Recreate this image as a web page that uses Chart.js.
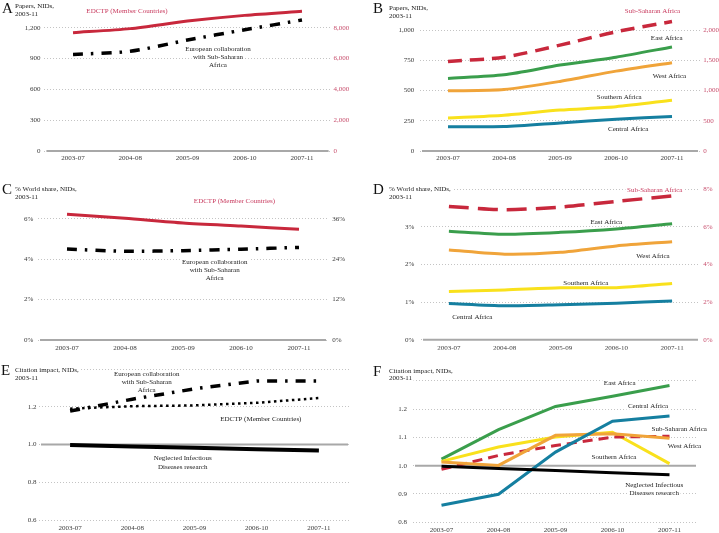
<!DOCTYPE html>
<html>
<head>
<meta charset="utf-8">
<script src="https://cdn.jsdelivr.net/npm/chart.js@4.4.0/dist/chart.umd.min.js"></script>
<style>
html, body { margin: 0; padding: 0; background: #fff; }
#wrap { position: relative; width: 719px; height: 533px; overflow: hidden; }
#wrap canvas { position: absolute; left: 0; top: 0; }
</style>
</head>
<body>
<div id="wrap"></div>
<script>
// periods on the x axis (all six panels)
const periods = ['2003-07', '2004-08', '2005-09', '2006-10', '2007-11'];

// A - papers (EDCTP on right axis)
const papersEdctp = [7680, 7940, 8430, 8800, 9060];
const papersEuroSsa = [940, 970, 1080, 1180, 1275];
// B - papers by region (Sub-Saharan on right axis)
const papersSsa = [1480, 1550, 1750, 1970, 2140];
const papersEast = [600, 630, 710, 775, 860];
const papersWest = [497, 508, 575, 660, 730];
const papersSouth = [272, 295, 338, 366, 420];
const papersCentral = [200, 202, 232, 262, 285];
// C - world share % (EDCTP on right axis)
const shareEdctp = [37.3, 36.1, 34.7, 33.8, 32.9];
const shareEuroSsa = [4.50, 4.39, 4.42, 4.49, 4.58];
// D - world share % by region (Sub-Saharan on right axis)
const shareSsa = [7.07, 6.90, 7.04, 7.34, 7.63];
const shareEast = [2.88, 2.80, 2.85, 2.94, 3.08];
const shareWest = [2.38, 2.27, 2.32, 2.49, 2.60];
const shareSouth = [1.28, 1.32, 1.38, 1.38, 1.49];
const shareCentral = [0.96, 0.90, 0.93, 0.97, 1.03];
// E - citation impact
const citeEuroSsa = [1.177, 1.24, 1.295, 1.337, 1.337];
const citeEdctp = [1.19, 1.203, 1.207, 1.221, 1.246];
const citeNid = [0.998, 0.99, 0.983, 0.975, 0.968];
// F - citation impact by region
const citeEast = [1.023, 1.127, 1.209, 1.245, 1.283];
const citeCentral = [0.86, 0.899, 1.048, 1.157, 1.175];
const citeSsa = [0.987, 1.036, 1.071, 1.101, 1.104];
const citeWest = [1.013, 1.001, 1.107, 1.113, 1.097];
const citeSouth = [1.015, 1.066, 1.101, 1.118, 1.007];

// axis ranges [min, max, step]
const ticksA = [0, 1200, 300], ticksA2 = [0, 8000, 2000];
const ticksB = [0, 1000, 250], ticksB2 = [0, 2000, 500];
const ticksC = [0, 6, 2], ticksC2 = [0, 36, 12];
const ticksD = [0, 4, 1], ticksD2 = [0, 8, 2];
const ticksE = [0.6, 1.4, 0.2];
const ticksF = [0.8, 1.3, 0.1];

const SERIF = '"Liberation Serif", "DejaVu Serif", serif';
const RED = '#c8283c', GREEN = '#3a9e4c', ORANGE = '#f0a43a', YELLOW = '#f9e11c', BLUE = '#157fa0';
const LABELRED = '#c83a5e', TICKRED = '#c8506e', TICK = '#3a3a3a';
const DASHDOT = [10, 8, 2.5, 8];

const comma = v => Math.round(v).toLocaleString('en-US');
const pct = v => Math.round(v) + '%';

function line(data, color, width, dash, axis, tension) {
    return {
        data: data, borderColor: color, borderWidth: width, borderDash: dash || [],
        yAxisID: axis || 'y', pointRadius: 0, tension: tension || 0, clip: false,
        fill: false, borderCapStyle: 'butt'
    };
}

//draws the reference line, titles and labels on top of the grid
const textPlugin = {
    id: 'texts',
    beforeDatasetsDraw(chart, args, o) {
        const ctx = chart.ctx;
        const area = chart.chartArea;
        ctx.save();
        if (o.ref !== undefined) {
            const y = chart.scales.y.getPixelForValue(o.ref);
            ctx.strokeStyle = '#a8a8a8';
            ctx.lineWidth = 2;
            ctx.beginPath();
            ctx.moveTo(area.left + 2, y);
            ctx.lineTo(area.right - 2, y);
            ctx.stroke();
        }
        ctx.textBaseline = 'middle';
        for (const t of o.items) {
            const size = t[5] || 7;
            ctx.font = size + 'px ' + SERIF;
            const w = ctx.measureText(t[0]).width;
            const left = t[3] == 'center' ? t[1] - w / 2 : t[1];
            ctx.fillStyle = '#fff';
            ctx.fillRect(left - 1.5, t[2] - size / 2 - 0.5, w + 3, size + 1);
            ctx.fillStyle = t[4] || '#222';
            ctx.textAlign = 'left';
            ctx.fillText(t[0], left, t[2]);
        }
        ctx.restore();
    },
    afterDraw(chart, args, o) {
        const ctx = chart.ctx;
        ctx.save();
        ctx.font = '15px ' + SERIF;
        ctx.fillStyle = '#111';
        ctx.textBaseline = 'alphabetic';
        ctx.fillText(o.letter[0], o.letter[1], o.letter[2]);
        ctx.restore();
    }
};

function panel(o) {
    const c = document.createElement('canvas');
    c.width = 719;
    c.height = 533;
    document.getElementById('wrap').appendChild(c);
    const font = { family: SERIF, size: 7 };
    const rW = o.yr ? Math.min(30, 719 - o.area[1]) : 0;
    const scales = {
        x: {
            type: 'category', offset: true,
            grid: { display: false, drawTicks: false }, border: { display: false },
            ticks: { color: TICK, font: font, padding: o.xPad, maxRotation: 0, autoSkip: false },
            afterFit: s => { s.height = 10; }
        },
        y: {
            position: 'left', min: o.yl[0], max: o.yl[1],
            ticks: { stepSize: o.yl[2], color: TICK, font: font, padding: o.lPad, callback: o.fl },
            grid: { color: '#c4c4c4', lineWidth: 1, drawTicks: false },
            border: { display: false, dash: [1, 2] },
            afterFit: s => { s.width = 25; }
        }
    };
    if (o.yr) {
        scales.y2 = {
            position: 'right', min: o.yr[0], max: o.yr[1],
            ticks: { stepSize: o.yr[2], color: o.rColor, font: font, padding: o.rPad, callback: o.fr },
            grid: { drawOnChartArea: false, drawTicks: false }, border: { display: false },
            afterFit: s => { s.width = rW; }
        };
    }
    new Chart(c, {
        type: 'line',
        data: { labels: periods, datasets: o.datasets },
        options: {
            responsive: false, animation: false, devicePixelRatio: 1,
            layout: { padding: {
                left: o.area[0] - 25,
                right: 719 - o.area[1] - rW,
                top: o.area[2],
                bottom: 533 - o.area[3] - 10
            } },
            scales: scales,
            plugins: {
                legend: { display: false }, tooltip: { enabled: false },
                texts: { ref: o.ref, items: o.items, letter: o.letter }
            }
        },
        plugins: [textPlugin]
    });
}

// A
panel({
    area: [44.4, 330.6, 27.7, 151], yl: ticksA, yr: ticksA2, fl: comma, fr: comma,
    lPad: 4, rPad: 3, xPad: 3.1, rColor: TICKRED, ref: 0,
    letter: ['A', 2, 13],
    items: [
        ['Papers, NIDs,', 15, 6, 'left'], ['2003-11', 15, 14.5, 'left'],
        ['EDCTP (Member Countries)', 127, 10.7, 'center', LABELRED],
        ['European collaboration', 218, 49.3, 'center'],
        ['with Sub-Saharan', 218, 57.3, 'center'],
        ['Africa', 218, 65.5, 'center']
    ],
    datasets: [
        line(papersEdctp, RED, 3, null, 'y2', 0.25),
        line(papersEuroSsa, '#000', 3.5, DASHDOT, 'y', 0.25)
    ]
});

// B
panel({
    area: [420, 700, 30, 151], yl: ticksB, yr: ticksB2, fl: comma, fr: comma,
    lPad: 5.7, rPad: 3.3, xPad: 3.1, rColor: TICKRED, ref: 0,
    letter: ['B', 373, 12.5],
    items: [
        ['Papers, NIDs,', 389, 8, 'left'], ['2003-11', 389, 15.7, 'left'],
        ['Sub-Saharan Africa', 652.5, 10.7, 'center', LABELRED],
        ['East Africa', 666.7, 38.3, 'center'],
        ['West Africa', 669.5, 76, 'center'],
        ['Southern Africa', 619.2, 97, 'center'],
        ['Central Africa', 628.2, 128.7, 'center']
    ],
    datasets: [
        line(papersSsa, RED, 3.5, [14, 8], 'y2', 0.25),
        line(papersEast, GREEN, 3, null, 'y', 0.25),
        line(papersWest, ORANGE, 3, null, 'y', 0.25),
        line(papersSouth, YELLOW, 3, null, 'y', 0.25),
        line(papersCentral, BLUE, 3, null, 'y', 0.25)
    ]
});

// C
panel({
    area: [38, 328, 218.7, 340], yl: ticksC, yr: ticksC2, fl: pct, fr: pct,
    lPad: 4.7, rPad: 4.3, xPad: 4.1, rColor: TICK, ref: 0,
    letter: ['C', 2, 194],
    items: [
        ['% World share, NIDs,', 15, 189, 'left'], ['2003-11', 15, 196.7, 'left'],
        ['EDCTP (Member Countries)', 234.5, 200.7, 'center', LABELRED],
        ['European collaboration', 214.7, 261.7, 'center'],
        ['with Sub-Saharan', 214.7, 270, 'center'],
        ['Africa', 214.7, 277.7, 'center']
    ],
    datasets: [
        line(shareEdctp, RED, 3, null, 'y2', 0.25),
        line(shareEuroSsa, '#000', 3.5, DASHDOT, 'y', 0.25)
    ]
});

// D
panel({
    area: [421, 700, 189, 339.7], yl: ticksD, yr: ticksD2,
    fl: v => (Math.round(v) == 4 ? '' : pct(v)), fr: pct,
    lPad: 6.7, rPad: 3.3, xPad: 4.4, rColor: TICKRED, ref: 0,
    letter: ['D', 373, 194],
    items: [
        ['% World share, NIDs,', 389, 189, 'left'], ['2003-11', 389, 196.7, 'left'],
        ['Sub-Saharan Africa', 654.7, 189.7, 'center', LABELRED],
        ['East Africa', 606.3, 221.7, 'center'],
        ['West Africa', 653, 256.3, 'center'],
        ['Southern Africa', 585.8, 282.7, 'center'],
        ['Central Africa', 472.3, 316.7, 'center']
    ],
    datasets: [
        line(shareSsa, RED, 3.5, [20, 9], 'y2', 0.25),
        line(shareEast, GREEN, 3, null, 'y', 0.25),
        line(shareWest, ORANGE, 3, null, 'y', 0.25),
        line(shareSouth, YELLOW, 3, null, 'y', 0.25),
        line(shareCentral, BLUE, 3, null, 'y', 0.25)
    ]
});

// E
panel({
    area: [39, 350, 369, 520], yl: ticksE,
    fl: v => (Math.abs(v - 1.4) < 0.01 ? '' : v.toFixed(1)),
    lPad: 2.5, xPad: 3.5, ref: 1,
    letter: ['E', 1, 375],
    items: [
        ['Citation impact, NIDs,', 15, 370, 'left'], ['2003-11', 15, 378, 'left'],
        ['European collaboration', 146.7, 374, 'center'],
        ['with Sub-Saharan', 146.7, 382.3, 'center'],
        ['Africa', 146.7, 390.3, 'center'],
        ['EDCTP (Member Countries)', 260.8, 419, 'center'],
        ['Neglected Infectious', 182.7, 458.3, 'center'],
        ['Diseases research', 182.7, 466.7, 'center']
    ],
    datasets: [
        line(citeEuroSsa, '#000', 3.5, DASHDOT, 'y', 0),
        line(citeEdctp, '#000', 2.5, [2.5, 3.5], 'y', 0),
        line(citeNid, '#000', 4, null, 'y', 0)
    ]
});

// F
panel({
    area: [413, 698, 380.7, 522.3], yl: ticksF,
    fl: v => (Math.abs(v - 1.3) < 0.01 ? '' : v.toFixed(1)),
    lPad: 6, xPad: 4, ref: 1,
    letter: ['F', 373, 376],
    items: [
        ['Citation impact, NIDs,', 389, 371, 'left'], ['2003-11', 389, 378.3, 'left'],
        ['East Africa', 619.7, 383.3, 'center'],
        ['Central Africa', 648, 405.7, 'center'],
        ['Sub-Saharan Africa', 679.2, 429, 'center'],
        ['West Africa', 684.5, 446, 'center'],
        ['Southern Africa', 614, 457.3, 'center'],
        ['Neglected Infectious', 654.2, 484.7, 'center'],
        ['Diseases research', 654.2, 492.7, 'center']
    ],
    datasets: [
        line(citeNid, '#000', 3, null, 'y', 0),
        line(citeCentral, BLUE, 3, null, 'y', 0),
        line(citeWest, ORANGE, 3, null, 'y', 0),
        line(citeSsa, RED, 3, [10, 6], 'y', 0),
        line(citeSouth, YELLOW, 3, null, 'y', 0),
        line(citeEast, GREEN, 3, null, 'y', 0)
    ]
});
</script>
</body>
</html>
